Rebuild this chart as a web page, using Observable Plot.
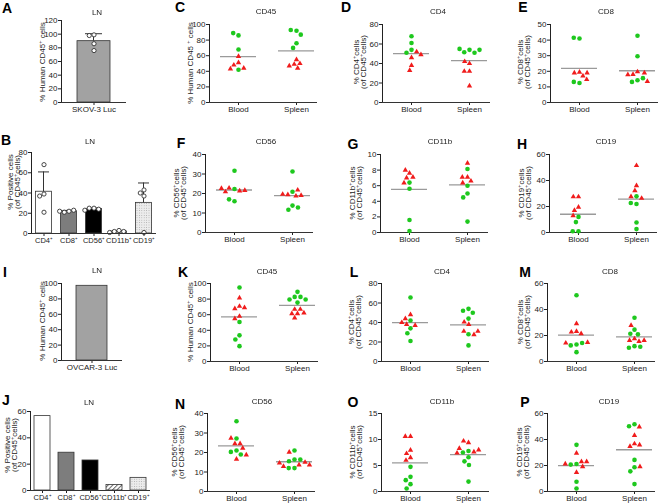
<!DOCTYPE html>
<html><head><meta charset="utf-8">
<script src="https://cdn.jsdelivr.net/npm/d3@7"></script>
<script src="https://cdn.jsdelivr.net/npm/@observablehq/plot@0.6"></script>
<style>
body{margin:0;background:#fff;}
#fig{position:relative;width:668px;height:503px;overflow:hidden;font-family:"Liberation Sans",Arial,sans-serif;color:#222;}
.lt{position:absolute;font-weight:bold;font-size:14px;transform:translate(-50%,-50%);line-height:1;color:#000;}
.ti{position:absolute;font-size:8px;transform:translate(-50%,-50%);white-space:nowrap;line-height:1;color:#222;will-change:transform;-webkit-font-smoothing:antialiased;}
.yl{position:absolute;font-size:8px;transform:translate(-50%,-50%) rotate(-90deg);white-space:nowrap;text-align:center;line-height:7px;color:#222;}
sup{font-size:70%;line-height:0;vertical-align:0.45em;}
</style></head><body>
<svg width="0" height="0" style="position:absolute"><defs>
<pattern id="hatch" width="3.2" height="3.2" patternUnits="userSpaceOnUse" patternTransform="rotate(45)"><rect width="3.2" height="3.2" fill="#fff"/><line x1="0.5" y1="0" x2="0.5" y2="3.2" stroke="#555" stroke-width="0.9"/></pattern>
<pattern id="dots" width="2.4" height="2.4" patternUnits="userSpaceOnUse"><rect width="2.4" height="2.4" fill="#ececec"/><circle cx="1.2" cy="1.2" r="0.45" fill="#9a9a9a"/></pattern>
</defs></svg>
<div id="fig"></div>
<script>
// ---------- DATA ----------
const groups = ["Blood", "Spleen"];
const shapes = ["circle", "triangle"];
const lnCats = ["CD4⁺", "CD8⁺", "CD56⁺", "CD11b⁺", "CD19⁺"];
const skovCats = ["SKOV-3 Luc"];
const ovcarCats = ["OVCAR-3 Luc"];

const ticks120 = [0, 20, 40, 60, 80, 100, 120];
const ticks100 = [0, 20, 40, 60, 80, 100];
const ticks80 = [0, 20, 40, 60, 80];
const ticks60 = [0, 20, 40, 60];
const ticks50 = [0, 10, 20, 30, 40, 50];
const ticks40 = [0, 10, 20, 30, 40];
const ticks15 = [0, 5, 10, 15];
const ticks10 = [0, 2, 4, 6, 8, 10];

// A: LN SKOV-3 Luc
const A_cd45 = [99, 98, 86, 76];
// B: LN subsets (SKOV-3)
const B_cd4 = [68, 39, 37, 21];
const B_cd8 = [22, 21, 23, 22];
const B_cd56 = [25, 25, 24, 23];
const B_cd11b = [3, 2, 2, 1];
const B_cd19 = [43, 40, 37, 1];
// I: LN OVCAR-3 Luc
const I_cd45 = [97];
// J: LN subsets (OVCAR-3)
const J_values = [56.5, 28.7, 22.8, 4.2, 9.6];

// SKOV-3 scatter panels
const C_blood_circle = [86, 89, 68, 42];
const C_blood_triangle = [59, 51, 48, 44, 43];
const C_spleen_circle = [92, 93, 87, 76, 70];
const C_spleen_triangle = [55, 49, 50, 47, 44];

const D_blood_circle = [68, 61, 54, 51];
const D_blood_triangle = [52, 49, 46, 38, 33];
const D_spleen_circle = [54, 51.5, 51, 54, 55];
const D_spleen_triangle = [40, 42, 32, 32, 17];

const E_blood_circle = [41, 41.5, 12.5, 13.2];
const E_blood_triangle = [19.5, 19, 17, 19, 14.7];
const E_spleen_circle = [42.8, 29.6, 14.3, 13.2, 15.6];
const E_spleen_triangle = [19.7, 18, 17.8, 19, 13.5];

const F_blood_circle = [31.7, 22.3, 16, 17];
const F_blood_triangle = [22.8, 21.3, 20.9, 21.6, 22.6];
const F_spleen_circle = [31.3, 20.9, 13.8, 11.7, 12.8];
const F_spleen_triangle = [19.4, 18.7, 19, 19.6, 21.8];

const G_blood_circle = [6.4, 5.6, 1.6, 0.2];
const G_blood_triangle = [7.6, 8.0, 7.0, 7.1, 6.35];
const G_spleen_circle = [8.15, 6.0, 5.0, 4.5, 1.4];
const G_spleen_triangle = [8.9, 7.1, 7.1, 6.6, 6.35];

const H_blood_circle = [12, 8, 1, 1];
const H_blood_triangle = [27.5, 27.5, 19.5, 17, 13];
const H_spleen_circle = [27.8, 21.9, 22.7, 7.7, 2.6];
const H_spleen_triangle = [51.5, 36, 32.2, 26.3, 27.6];

// OVCAR-3 scatter panels
const K_blood_circle = [94.8, 50.6, 33.5, 28.3, 19.7];
const K_blood_triangle = [81.5, 70.8, 67.8, 69, 58, 55];
const K_spleen_circle = [89.3, 82.8, 82.8, 79.4, 79.4, 75.5];
const K_spleen_triangle = [61.4, 67, 67, 55.8, 61.4, 62.2];

const L_blood_circle = [65.6, 42, 34, 29, 21];
const L_blood_triangle = [48, 44, 38, 37, 40];
const L_spleen_circle = [54, 52, 50, 44, 28, 16.5];
const L_spleen_triangle = [40.5, 31, 27.5, 31, 38];

const M_blood_circle = [51, 13.1, 12.4, 14.2, 7.2];
const M_blood_triangle = [29.1, 23.2, 22.7, 21.4, 14.2, 14.7];
const M_spleen_circle = [33.7, 24.5, 21.4, 20.9, 11.8, 10.6, 11.3];
const M_spleen_triangle = [27.8, 17.5, 16.2, 15.5, 16.2];

const N_blood_circle = [36, 27.2, 21, 20.3, 19];
const N_blood_triangle = [27.4, 24.5, 24.5, 22.2, 18.8, 16.6];
const N_spleen_circle = [16.4, 21, 15.5, 16.4, 12, 12];
const N_spleen_triangle = [20.2, 13.6, 15, 12.9, 14.6, 13.6];

const O_blood_circle = [4.74, 2.82, 2.18, 1.41, 0.58];
const O_blood_triangle = [10.6, 10.6, 7.95, 7.3, 6.5, 6.0];
const O_spleen_circle = [7.8, 7.5, 6.6, 5.8, 5.1, 1.9];
const O_spleen_triangle = [9.4, 9.7, 7.6, 8.0, 8.3, 7.4];

const P_blood_circle = [35.9, 21.2, 20.7, 7.5, 2.3];
const P_blood_triangle = [29.5, 23, 23, 21.2, 19.1, 14.7];
const P_spleen_circle = [51.7, 50.2, 24.3, 18.6, 15.5, 5.7];
const P_spleen_triangle = [49.7, 43.2, 36.7, 34.7, 35.9, 19.1];

// ---------- STYLE ----------
const FONT = '"Liberation Sans", Arial, Helvetica, sans-serif';
const GREEN = "#1ec81e", RED = "#f01c1c", AXIS = "#333", MEAN = "#9a9a9a";
const fig = document.getElementById("fig");

function addText(cls, x, y, html) {
  const d = document.createElement("div");
  d.className = cls; d.style.left = x + "px"; d.style.top = y + "px";
  d.innerHTML = html; fig.appendChild(d);
}
function placeSvg(svg, left, top) {
  svg.style.position = "absolute"; svg.style.left = left + "px"; svg.style.top = top + "px";
  fig.appendChild(svg);
}
const meanSd = (v) => d3.mean(v) + (v.length > 1 ? d3.deviation(v) : 0);

// ---------- SCATTER PANELS ----------
function scatter(p) {
  const ML = 26, MR = 4, MT = 6, MB = 16, FW = 58, H = 78;
  const [bc, bt, sc, st] = p.s;
  const rows = [];
  [[groups[0], shapes[0], bc], [groups[0], shapes[1], bt], [groups[1], shapes[0], sc], [groups[1], shapes[1], st]]
    .forEach(([group, type, vals]) => vals.forEach(v => rows.push({group, type, value: v})));
  const svg = Plot.plot({
    width: ML + FW * 2 + MR, height: MT + H + MB,
    marginLeft: ML, marginRight: MR, marginTop: MT, marginBottom: MB,
    style: {fontFamily: FONT, fontSize: "8px", color: "#222", background: "transparent", overflow: "visible"},
    fx: {domain: groups, padding: 0, axis: "bottom", label: null, tickSize: 3, tickPadding: 1},
    y: {domain: [0, p.max], ticks: p.ticks, label: null, tickSize: 3, tickPadding: 1, line: true},
    symbol: {domain: shapes, range: ["circle", "triangle"]},
    color: {domain: shapes, range: [GREEN, RED]},
    r: {type: "identity"},
    marks: [
      Plot.ruleY([groups[0]], {fx: d => d, y: () => 0, stroke: AXIS}),
      Plot.ruleY([groups[1]], {fx: d => d, y: () => 0, stroke: AXIS, insetRight: 8}),
      Plot.ruleY(rows, Plot.groupZ({y: "mean"}, {fx: "group", y: "value", stroke: MEAN, strokeWidth: 1.3, insetLeft: 11, insetRight: 11})),
      Plot.dot(rows, Plot.dodgeX({anchor: "middle", padding: 1.2}, {fx: "group", y: "value", symbol: "type", fill: "type", r: d => d.type === "triangle" ? 2.0 : 2.3}))
    ]
  });
  placeSvg(svg, p.ax - ML, p.top - MT);
  addText("lt", p.lp[0], p.lp[1], p.L);
  addText("ti", p.tp[0], p.tp[1], p.t);
  addText("yl", p.yp[0], p.yp[1], p.lab);
}

const lab2 = (m) => `% ${m}<sup>+</sup>cells<br>(of CD45<sup>+</sup>cells)`;
const humanLab = "% Human CD45<sup>+</sup> cells";

[
  {L: "C", t: "CD45", ax: 209, top: 24, max: 100, ticks: ticks100, lp: [180, 7], tp: [266, 12], yp: [190, 63], lab: "% Human CD45 <sup>+</sup> cells", s: [C_blood_circle, C_blood_triangle, C_spleen_circle, C_spleen_triangle]},
  {L: "D", t: "CD4", ax: 382, top: 24, max: 80, ticks: ticks80, lp: [346, 7], tp: [438, 12], yp: [360, 62], lab: lab2("CD4"), s: [D_blood_circle, D_blood_triangle, D_spleen_circle, D_spleen_triangle]},
  {L: "E", t: "CD8", ax: 550, top: 24, max: 50, ticks: ticks50, lp: [523, 7], tp: [606, 12], yp: [524, 62], lab: lab2("CD8"), s: [E_blood_circle, E_blood_triangle, E_spleen_circle, E_spleen_triangle]},
  {L: "F", t: "CD56", ax: 205, top: 154, max: 40, ticks: ticks40, lp: [181, 143], tp: [266, 142], yp: [180, 193], lab: lab2("CD56"), s: [F_blood_circle, F_blood_triangle, F_spleen_circle, F_spleen_triangle]},
  {L: "G", t: "CD11b", ax: 380, top: 154, max: 10, ticks: ticks10, lp: [353, 144], tp: [440, 142], yp: [356, 193], lab: lab2("CD11b"), s: [G_blood_circle, G_blood_triangle, G_spleen_circle, G_spleen_triangle]},
  {L: "H", t: "CD19", ax: 549, top: 154, max: 60, ticks: ticks60, lp: [522, 144], tp: [606, 142], yp: [525, 193], lab: lab2("CD19"), s: [H_blood_circle, H_blood_triangle, H_spleen_circle, H_spleen_triangle]},
  {L: "K", t: "CD45", ax: 210, top: 283, max: 100, ticks: ticks100, lp: [183, 272], tp: [267, 272], yp: [190, 322], lab: humanLab, s: [K_blood_circle, K_blood_triangle, K_spleen_circle, K_spleen_triangle]},
  {L: "L", t: "CD4", ax: 381, top: 283, max: 80, ticks: ticks80, lp: [354, 272], tp: [442, 272], yp: [355, 322], lab: lab2("CD4"), s: [L_blood_circle, L_blood_triangle, L_spleen_circle, L_spleen_triangle]},
  {L: "M", t: "CD8", ax: 547, top: 283, max: 60, ticks: ticks60, lp: [525, 272], tp: [610, 272], yp: [524, 322], lab: lab2("CD8"), s: [M_blood_circle, M_blood_triangle, M_spleen_circle, M_spleen_triangle]},
  {L: "N", t: "CD56", ax: 207, top: 413, max: 40, ticks: ticks40, lp: [180, 404], tp: [262, 402], yp: [178, 452], lab: lab2("CD56"), s: [N_blood_circle, N_blood_triangle, N_spleen_circle, N_spleen_triangle]},
  {L: "O", t: "CD11b", ax: 381, top: 413, max: 15, ticks: ticks15, lp: [353, 402], tp: [442, 402], yp: [356, 452], lab: lab2("CD11b"), s: [O_blood_circle, O_blood_triangle, O_spleen_circle, O_spleen_triangle]},
  {L: "P", t: "CD19", ax: 547, top: 413, max: 60, ticks: ticks60, lp: [525, 402], tp: [609, 402], yp: [523, 452], lab: lab2("CD19"), s: [P_blood_circle, P_blood_triangle, P_spleen_circle, P_spleen_triangle]}
].forEach(scatter);

// ---------- BAR PANELS ----------
function barPanel(p) {
  const ML = 24, MR = 4, MT = 5, MB = 16;
  const marks = [];
  if (p.points) {
    const rows = [];
    p.cats.forEach((c, i) => p.points[i].forEach(v => rows.push({cat: c, value: v})));
    marks.push(
      Plot.barY(rows, Plot.groupZ({y: "mean"}, {fx: "cat", y: "value", fill: "cat", stroke: AXIS, strokeWidth: 0.8, insetLeft: p.inset, insetRight: p.inset})),
      Plot.barY(rows, Plot.groupZ({y1: "mean", y2: meanSd}, {fx: "cat", y1: "value", y2: "value", fill: AXIS, insetLeft: p.fw / 2 - 0.5, insetRight: p.fw / 2 - 0.5})),
      Plot.ruleY(rows, Plot.groupZ({y: meanSd}, {fx: "cat", y: "value", stroke: AXIS, insetLeft: p.cap, insetRight: p.cap})),
      Plot.dot(rows, Plot.dodgeX({anchor: "middle", padding: 0.6}, {fx: "cat", y: "value", r: 2.1, fill: "white", stroke: AXIS, strokeWidth: 0.9}))
    );
  } else {
    const rows = p.cats.map((c, i) => ({cat: c, value: p.values[i]}));
    marks.push(Plot.barY(rows, {fx: "cat", y: "value", fill: "cat", stroke: AXIS, strokeWidth: 0.8, insetLeft: p.inset, insetRight: p.inset}));
  }
  marks.push(Plot.ruleY([0], {stroke: AXIS}));
  const svg = Plot.plot({
    width: ML + p.fw * p.cats.length + MR, height: MT + p.h + MB,
    marginLeft: ML, marginRight: MR, marginTop: MT, marginBottom: MB,
    style: {fontFamily: FONT, fontSize: "8px", color: "#222", background: "transparent", overflow: "visible"},
    fx: {domain: p.cats, padding: 0, axis: "bottom", label: null, tickSize: 3, tickPadding: 1},
    y: {domain: [0, p.max], ticks: p.ticks, label: null, tickSize: 3, tickPadding: 1, line: true},
    color: {domain: p.cats, range: p.fills},
    marks
  });
  if (p.xfont) svg.querySelectorAll("text").forEach(t => { if (p.cats.includes(t.textContent)) t.style.fontSize = p.xfont; });
  placeSvg(svg, p.ax - ML, p.top - MT);
  addText("lt", p.lp[0], p.lp[1], p.L);
  addText("ti", p.tp[0], p.tp[1], "LN");
  addText("yl", p.yp[0], p.yp[1], p.lab);
}

const lnFills = ["#ffffff", "#7d7d7d", "#000000", "url(#hatch)", "url(#dots)"];
const posLab = "% Positive cells<br>(of CD45<sup>+</sup>cells)";

barPanel({L: "A", ax: 61, top: 20, h: 82, fw: 65, inset: 16, cap: 24, max: 120, ticks: ticks120, cats: skovCats, points: [A_cd45], fills: ["#a2a2a2"], lp: [7, 8], tp: [97, 13], yp: [42, 62], lab: humanLab});
barPanel({L: "B", ax: 31, top: 152, h: 81, fw: 25, inset: 4.5, cap: 7, max: 80, ticks: ticks80, cats: lnCats, points: [B_cd4, B_cd8, B_cd56, B_cd11b, B_cd19], fills: lnFills, xfont: "7.5px", lp: [6, 140], tp: [90, 142], yp: [14, 182], lab: posLab});
barPanel({L: "I", ax: 61, top: 283, h: 77, fw: 61, inset: 15, max: 100, ticks: ticks100, cats: ovcarCats, values: I_cd45, fills: ["#a2a2a2"], lp: [5, 272], tp: [97, 271], yp: [42, 321], lab: humanLab});
barPanel({L: "J", ax: 29, top: 411, h: 79, fw: 24.5, inset: 4, max: 60, ticks: ticks60, cats: lnCats, values: J_values, fills: lnFills, xfont: "7.5px", lp: [6, 400], tp: [89, 403], yp: [11, 445], lab: posLab});
</script>
</body></html>
